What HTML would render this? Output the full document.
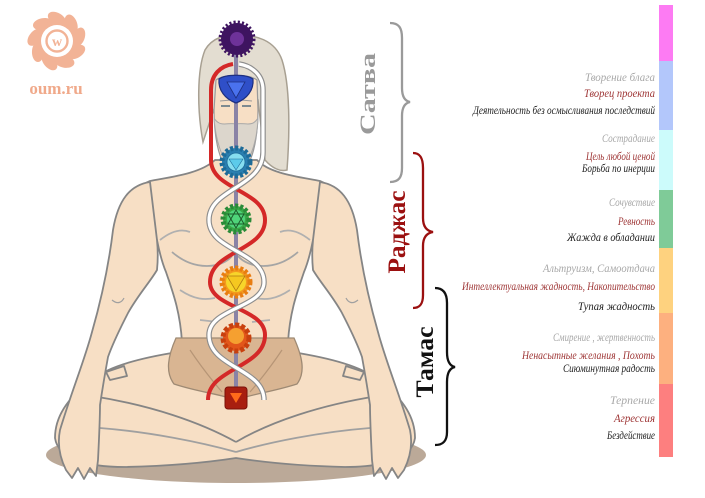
<!DOCTYPE html>
<html><head><meta charset="utf-8"><style>
html,body{margin:0;padding:0;background:#fff;}
svg{display:block;}
</style></head><body>
<svg width="705" height="498" viewBox="0 0 705 498" xmlns="http://www.w3.org/2000/svg">
<rect width="705" height="498" fill="#fff"/>

<!-- Logo -->
<g fill="#f2b396">
  <g transform="translate(57,41)">
    <ellipse cx="0" cy="-22" rx="10" ry="6" transform="rotate(0) rotate(30 0 -22)"/>
    <ellipse cx="0" cy="-22" rx="10" ry="6" transform="rotate(40) rotate(30 0 -22)"/>
    <ellipse cx="0" cy="-22" rx="10" ry="6" transform="rotate(80) rotate(30 0 -22)"/>
    <ellipse cx="0" cy="-22" rx="10" ry="6" transform="rotate(120) rotate(30 0 -22)"/>
    <ellipse cx="0" cy="-22" rx="10" ry="6" transform="rotate(160) rotate(30 0 -22)"/>
    <ellipse cx="0" cy="-22" rx="10" ry="6" transform="rotate(200) rotate(30 0 -22)"/>
    <ellipse cx="0" cy="-22" rx="10" ry="6" transform="rotate(240) rotate(30 0 -22)"/>
    <ellipse cx="0" cy="-22" rx="10" ry="6" transform="rotate(280) rotate(30 0 -22)"/>
    <ellipse cx="0" cy="-22" rx="10" ry="6" transform="rotate(320) rotate(30 0 -22)"/>
    <circle r="21"/>
    <circle r="16" fill="#fff"/>
    <circle r="10.5" fill="none" stroke="#f2b396" stroke-width="2.4"/>
  </g>
  <text x="57" y="46" text-anchor="middle" font-family="Liberation Serif, serif" font-size="14" font-weight="bold">w</text>
  <text x="56" y="94" text-anchor="middle" font-family="Liberation Serif, serif" font-size="17" font-weight="bold" fill="#f0a98a">oum.ru</text>
</g>

<!-- Shadow -->
<ellipse cx="236" cy="455" rx="190" ry="28" fill="#bba998"/>

<!-- Legs -->
<g stroke="#858585" stroke-width="1.8" fill="#f7dfc5" stroke-linejoin="round">
  <path d="M178 352 C140 358 110 366 95 378 C70 395 55 415 55 438 C58 458 85 467 125 467 C170 466 210 462 236 458 C262 462 300 466 345 467 C385 467 412 458 415 438 C415 415 400 395 375 378 C360 366 330 358 292 352 Z"/>
  <path d="M92 396 C150 405 200 422 236 442" fill="none"/>
  <path d="M378 396 C320 405 270 422 236 442" fill="none"/>
  <path d="M100 428 C150 432 200 442 236 452" fill="none" stroke="#a0a0a0"/>
  <path d="M370 428 C320 432 270 442 236 452" fill="none" stroke="#a0a0a0"/>
  <path d="M106 372 L124 366 L127 376 L110 380 Z" fill="#f7dfc5"/>
  <path d="M364 372 L346 366 L343 376 L360 380 Z" fill="#f7dfc5"/>
</g>

<!-- Torso -->
<g stroke="#858585" stroke-width="1.8" fill="#f7dfc5" stroke-linejoin="round">
  <path d="M215 160 C200 174 170 177 150 181 C138 186 132 195 135 210 C140 225 150 232 157 240 C160 255 163 265 166 272 C172 290 180 310 182 342 L288 342 C290 310 298 290 304 272 C307 265 310 255 313 240 C320 232 330 225 335 210 C338 195 332 186 320 181 C300 177 270 174 257 160 Z"/>
  <path d="M172 252 C195 272 222 268 232 256" fill="none" stroke="#a5a5a5"/>
  <path d="M298 252 C275 272 248 268 238 256" fill="none" stroke="#a5a5a5"/>
  <path d="M180 290 C195 300 205 300 215 298 M290 290 C275 300 265 300 255 298 M200 320 L218 322 M270 320 L252 322" fill="none" stroke="#b0b0b0"/>
  <path d="M160 240 C170 232 180 228 190 232 M310 240 C300 232 290 228 280 232" fill="none" stroke="#b0b0b0"/>
</g>

<!-- Loincloth -->
<path d="M176 338 L294 338 C302 356 306 372 297 384 C272 392 252 394 236 400 C220 394 198 392 174 384 C165 372 168 356 176 338 Z" fill="#d9b592" stroke="#9e8a74" stroke-width="1.3"/>
<path d="M190 350 C200 365 210 378 222 392 M282 350 C272 365 262 378 250 392" fill="none" stroke="#b69576" stroke-width="1.2"/>

<!-- Arms -->
<g stroke="#858585" stroke-width="1.8" fill="#f7dfc5" stroke-linejoin="round">
  <path d="M150 182 C130 185 118 200 113 230 C110 255 104 290 92 332 C84 362 72 390 60 430 C57 445 60 458 66 470 L72 478 L78 468 L84 479 L90 468 L96 476 L98 460 C99 440 100 420 100 405 C103 385 106 368 108 357 C114 340 122 325 128 313 C138 295 150 282 157 270 C158 260 158 250 157 240 Z"/>
  <path transform="matrix(-1 0 0 1 470 0)" d="M150 182 C130 185 118 200 113 230 C110 255 104 290 92 332 C84 362 72 390 60 430 C57 445 60 458 66 470 L72 478 L78 468 L84 479 L90 468 L96 476 L98 460 C99 440 100 420 100 405 C103 385 106 368 108 357 C114 340 122 325 128 313 C138 295 150 282 157 270 C158 260 158 250 157 240 Z"/>
  <path d="M112 300 C118 305 122 302 124 298 M358 300 C352 305 348 302 346 298" fill="none" stroke="#a0a0a0" stroke-width="1.2"/>
</g>

<!-- Head: turban, face, beard -->
<path d="M203 142 C197 110 197 70 205 50 C212 38 225 34 237 36 C255 34 275 40 282 60 C290 85 290 130 287 170 C280 172 272 168 265 160 L258 100 L217 100 Z" fill="#e3ddd1" stroke="#a8a092" stroke-width="1.5"/>
<path d="M216 80 C224 74 249 74 257 80 L258 110 C258 130 255 150 250 160 C245 168 228 168 222 160 C217 150 214 130 214 110 Z" fill="#f7dfc5" stroke="#9a9a9a" stroke-width="1.2"/>
<path d="M214 118 C216 145 225 168 236 171 C248 168 257 145 258 118 C252 128 245 122 236 124 C228 122 220 128 214 118 Z" fill="#dcd6cc" stroke="#a8a8a8" stroke-width="1"/>
<path d="M221 106 L230 106 M242 106 L251 106" stroke="#7d8a90" stroke-width="2"/>
<path d="M220 101 L231 100 M241 100 L252 101" stroke="#9a9a9a" stroke-width="1"/>

<!-- Spine -->
<line x1="236" y1="39" x2="236" y2="398" stroke="#8a83a6" stroke-width="4"/>

<!-- Helix -->
<path d="M233 64 C220 66 211 75 211 90 L211 160 C211 190 265 190 265 220 C265 251 210 251 210 282 C210 308 265 308 265 335 C265 368 208 368 208 400" fill="none" stroke="#d42828" stroke-width="4"/>
<path d="M239 64 C252 66 263 75 263 90 L263 152 C263 188 209 188 209 220 C209 251 264 251 264 282 C264 308 209 308 209 335 C209 368 264 368 264 400" fill="none" stroke="#8d8d8d" stroke-width="5.5"/>
<path d="M239 64 C252 66 263 75 263 90 L263 152 C263 188 209 188 209 220 C209 251 264 251 264 282 C264 308 209 308 209 335 C209 368 264 368 264 400" fill="none" stroke="#fff" stroke-width="3.2"/>

<!-- Chakras -->
<circle cx="237" cy="39" r="16" fill="#3e1460" stroke="#3e1460" stroke-width="5" stroke-dasharray="2 2"/>
<circle cx="237" cy="39" r="7" fill="#7a3aa8" opacity="0.8"/>
<path d="M219 79 C226 74 246 74 253 79 C254 90 247 99 236 103 C225 99 218 90 219 79 Z" fill="#2f4fc8" stroke="#1d2f80" stroke-width="1.2"/>
<path d="M227 82 L245 82 L236 98 Z" fill="#4a72ee" stroke="#1d2f80" stroke-width="0.8"/>
<circle cx="236" cy="162" r="14" fill="#2a7fb0" stroke="#1d6b98" stroke-width="5" stroke-dasharray="3 2"/>
<circle cx="236" cy="162" r="9" fill="#86def0" stroke="#1d6b98" stroke-width="0.8"/>
<path d="M229 159 L243 159 L236 170 Z" fill="#5ccbea" stroke="#1d6b98" stroke-width="0.6"/>
<circle cx="236" cy="219" r="13" fill="#3aa848" stroke="#2a8a38" stroke-width="5" stroke-dasharray="3 2"/>
<circle cx="236" cy="219" r="9" fill="#4fd47a"/>
<path d="M236 210 L244 224 L228 224 Z M236 228 L244 214 L228 214 Z" fill="none" stroke="#1c5a2a" stroke-width="1"/>
<circle cx="236" cy="282" r="14" fill="#f39a1e" stroke="#e87d12" stroke-width="5" stroke-dasharray="3 2"/>
<circle cx="236" cy="282" r="10" fill="#f7d52a"/>
<path d="M227 276 L245 276 L236 291 Z" fill="#f5c820" stroke="#b07a10" stroke-width="0.8"/>
<circle cx="236" cy="338" r="13" fill="#e2561a" stroke="#c8400e" stroke-width="5" stroke-dasharray="4 2"/>
<circle cx="236" cy="336" r="8" fill="#f5a030"/>
<rect x="225" y="387" width="22" height="22" rx="3" fill="#a81e10" stroke="#7a1008" stroke-width="1"/>
<path d="M230 393 L242 393 L236 403 Z" fill="#ff6a1a"/>

<!-- Braces -->
<path d="M390 23 C399 23 402 28 402 38 L402 88 C402 97 405 101 410 102 C405 103 402 107 402 116 L402 168 C402 177 399 182 390 182" fill="none" stroke="#9a9a9a" stroke-width="2.3"/>
<path d="M413 153 C420 153 423 158 423 168 L423 218 C423 227 427 231 433 232 C427 233 423 237 423 246 L423 295 C423 304 420 308 413 308" fill="none" stroke="#9b1010" stroke-width="2.3"/>
<path d="M435 288 C443 288 447 293 447 303 L447 352 C447 361 450 366 455 367 C450 368 447 373 447 382 L447 432 C447 441 443 445 435 445" fill="none" stroke="#111" stroke-width="2.3"/>

<!-- Rotated labels -->
<g font-family="Liberation Serif, serif" font-weight="bold" text-anchor="middle">
  <text transform="translate(375,94) rotate(-90)" font-size="22" fill="#9a9a9a" textLength="82" lengthAdjust="spacingAndGlyphs">Сатва</text>
  <text transform="translate(405,232) rotate(-90)" font-size="25" fill="#9b1010" textLength="83" lengthAdjust="spacingAndGlyphs">Раджас</text>
  <text transform="translate(433,362) rotate(-90)" font-size="25" fill="#111" textLength="71" lengthAdjust="spacingAndGlyphs">Тамас</text>
</g>

<!-- Color bar -->
<rect x="659" y="5" width="14" height="56" fill="#fd7bf3"/>
<rect x="659" y="61" width="14" height="69" fill="#b3c7fb"/>
<rect x="659" y="130" width="14" height="60" fill="#ccfbfb"/>
<rect x="659" y="190" width="14" height="58" fill="#7fcb98"/>
<rect x="659" y="248" width="14" height="65" fill="#fed27f"/>
<rect x="659" y="313" width="14" height="71" fill="#fdb07f"/>
<rect x="659" y="384" width="14" height="73" fill="#fd7f7f"/>

<!-- Right texts -->
<g font-family="Liberation Serif, serif" font-style="italic" font-size="11.5" text-anchor="end">
  <text x="655" y="81" fill="#a8a8a8" textLength="70" lengthAdjust="spacingAndGlyphs">Творение блага</text>
  <text x="655" y="97" fill="#9e3535" textLength="71" lengthAdjust="spacingAndGlyphs">Творец проекта</text>
  <text x="655" y="114" fill="#222" textLength="182" lengthAdjust="spacingAndGlyphs">Деятельность без осмысливания последствий</text>

  <text x="655" y="142" fill="#a8a8a8" textLength="53" lengthAdjust="spacingAndGlyphs">Сострадание</text>
  <text x="655" y="160" fill="#9e3535" textLength="69" lengthAdjust="spacingAndGlyphs">Цель любой ценой</text>
  <text x="655" y="172" fill="#222" textLength="73" lengthAdjust="spacingAndGlyphs">Борьба по инерции</text>

  <text x="655" y="206" fill="#a8a8a8" textLength="46" lengthAdjust="spacingAndGlyphs">Сочувствие</text>
  <text x="655" y="225" fill="#9e3535" textLength="37" lengthAdjust="spacingAndGlyphs">Ревность</text>
  <text x="655" y="241" fill="#222" textLength="88" lengthAdjust="spacingAndGlyphs">Жажда в обладании</text>

  <text x="655" y="272" fill="#a8a8a8" textLength="112" lengthAdjust="spacingAndGlyphs">Альтруизм, Самоотдача</text>
  <text x="655" y="290" fill="#9e3535" textLength="193" lengthAdjust="spacingAndGlyphs">Интеллектуальная жадность, Накопительство</text>
  <text x="655" y="310" fill="#222" textLength="77" lengthAdjust="spacingAndGlyphs">Тупая жадность</text>

  <text x="655" y="341" fill="#a8a8a8" textLength="102" lengthAdjust="spacingAndGlyphs">Смирение , жертвенность</text>
  <text x="655" y="359" fill="#9e3535" textLength="133" lengthAdjust="spacingAndGlyphs">Ненасытные желания , Похоть</text>
  <text x="655" y="372" fill="#222" textLength="92" lengthAdjust="spacingAndGlyphs">Сиюминутная радость</text>

  <text x="655" y="404" fill="#a8a8a8" textLength="45" lengthAdjust="spacingAndGlyphs">Терпение</text>
  <text x="655" y="422" fill="#9e3535" textLength="41" lengthAdjust="spacingAndGlyphs">Агрессия</text>
  <text x="655" y="439" fill="#222" textLength="48" lengthAdjust="spacingAndGlyphs">Бездействие</text>
</g>
</svg>
</body></html>
